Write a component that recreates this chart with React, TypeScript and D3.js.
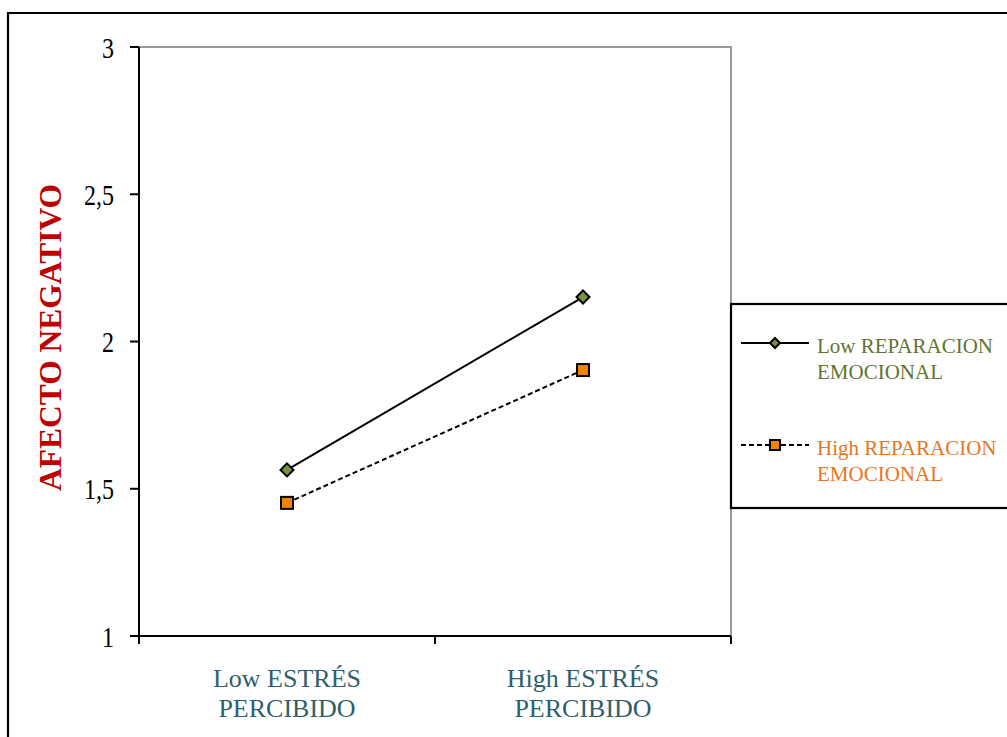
import React from "react";
import * as d3 from "d3";

const categories = ["Low ESTRÉS|PERCIBIDO", "High ESTRÉS|PERCIBIDO"];
const lowReparacion = [1.564, 2.151];
const highReparacion = [1.452, 1.903];
const yTicks = [1, 1.5, 2, 2.5, 3];
const yTickLabels = ["1", "1,5", "2", "2,5", "3"];
const seriesNames = ["Low REPARACION|EMOCIONAL", "High REPARACION|EMOCIONAL"];

const W = 1007;
const H = 737;
const plot = { left: 139, right: 731, top: 47, bottom: 636 };

const serif = "'Liberation Serif', 'Times New Roman', serif";
const green = "#5f7433";
const orange = "#e8761d";
const teal = "#2f5f6b";

export default function App() {
  const x = d3
    .scaleBand<string>()
    .domain(categories)
    .range([plot.left, plot.right])
    .padding(0);
  const y = d3.scaleLinear().domain([1, 3]).range([plot.bottom, plot.top]);
  const cx = (c: string) => (x(c) ?? 0) + x.bandwidth() / 2;

  const line = d3
    .line<number>()
    .x((_, i) => cx(categories[i]))
    .y((v) => y(v));

  const diamond = (px: number, py: number, r: number) =>
    `M${px},${py - r}L${px + r},${py}L${px},${py + r}L${px - r},${py}Z`;

  const xEdges = [plot.left, ...categories.map((c) => (x(c) ?? 0) + x.bandwidth())];

  const legendRows = [
    { y: 343, name: seriesNames[0], color: green, dash: undefined as string | undefined, kind: "diamond" },
    { y: 445, name: seriesNames[1], color: orange, dash: "5,3", kind: "square" },
  ];

  return (
    <svg
      width={W}
      height={H}
      style={{ position: "absolute", left: 0, top: 0, background: "#fff" }}
    >
      {/* outer chart frame */}
      <path d={`M8,${H + 5}L8,13L${W + 5},13`} fill="none" stroke="#000" strokeWidth={2.2} />

      {/* plot area frame */}
      <path
        d={`M${plot.left},${plot.top}L${plot.right},${plot.top}L${plot.right},${plot.bottom}`}
        fill="none"
        stroke="#999"
        strokeWidth={2}
      />

      {/* y axis */}
      <line x1={plot.left} x2={plot.left} y1={plot.top} y2={plot.bottom} stroke="#000" strokeWidth={2} />
      {yTicks.map((t, i) => (
        <g key={t}>
          <line x1={plot.left - 9} x2={plot.left} y1={y(t)} y2={y(t)} stroke="#000" strokeWidth={2} />
          <text
            transform={`translate(114,${y(t)}) scale(1,1.25)`}
            dy="0.35em"
            textAnchor="end"
            fontFamily={serif}
            fontSize={24}
            fill="#000"
          >
            {yTickLabels[i]}
          </text>
        </g>
      ))}

      {/* x axis */}
      <line x1={plot.left - 9} x2={plot.right} y1={plot.bottom} y2={plot.bottom} stroke="#000" strokeWidth={2} />
      {xEdges.map((ex, i) => (
        <line key={i} x1={ex} x2={ex} y1={plot.bottom} y2={plot.bottom + 8} stroke="#000" strokeWidth={2} />
      ))}
      {categories.map((c) => (
        <text key={c} textAnchor="middle" fontFamily={serif} fontSize={26} fill={teal}>
          {c.split("|").map((part, j) => (
            <tspan key={j} x={cx(c)} y={687 + j * 30}>
              {part}
            </tspan>
          ))}
        </text>
      ))}

      {/* y axis title */}
      <text
        transform={`translate(61,${(180 + 495) / 2}) rotate(-90)`}
        textAnchor="middle"
        fontFamily={serif}
        fontWeight="bold"
        fontSize={31.5}
        fill="#c00000"
      >
        AFECTO NEGATIVO
      </text>

      {/* series lines */}
      <path d={line(lowReparacion) ?? ""} fill="none" stroke="#000" strokeWidth={2} />
      <path d={line(highReparacion) ?? ""} fill="none" stroke="#000" strokeWidth={2} strokeDasharray="5,3" />

      {/* markers */}
      {lowReparacion.map((v, i) => (
        <path
          key={`d${i}`}
          d={diamond(cx(categories[i]), y(v), 6.5)}
          fill="#77933c"
          stroke="#000"
          strokeWidth={2}
        />
      ))}
      {highReparacion.map((v, i) => (
        <rect
          key={`s${i}`}
          x={cx(categories[i]) - 6}
          y={y(v) - 6}
          width={12}
          height={12}
          fill="#f08400"
          stroke="#000"
          strokeWidth={2}
        />
      ))}

      {/* legend */}
      <rect x={731} y={304} width={W} height={204} fill="#fff" stroke="#000" strokeWidth={2.2} />
      {legendRows.map((r) => (
        <g key={r.name}>
          <line x1={741} x2={809} y1={r.y} y2={r.y} stroke="#000" strokeWidth={2} strokeDasharray={r.dash} />
          {r.kind === "diamond" ? (
            <path d={diamond(775, r.y, 5)} fill="#77933c" stroke="#000" strokeWidth={2} />
          ) : (
            <rect x={770} y={r.y - 5} width={10} height={10} fill="#f08400" stroke="#000" strokeWidth={2} />
          )}
          <text fontFamily={serif} fontSize={21} fill={r.color}>
            {r.name.split("|").map((part, j) => (
              <tspan key={j} x={817} y={r.y + 10 + j * 26}>
                {part}
              </tspan>
            ))}
          </text>
        </g>
      ))}
    </svg>
  );
}
